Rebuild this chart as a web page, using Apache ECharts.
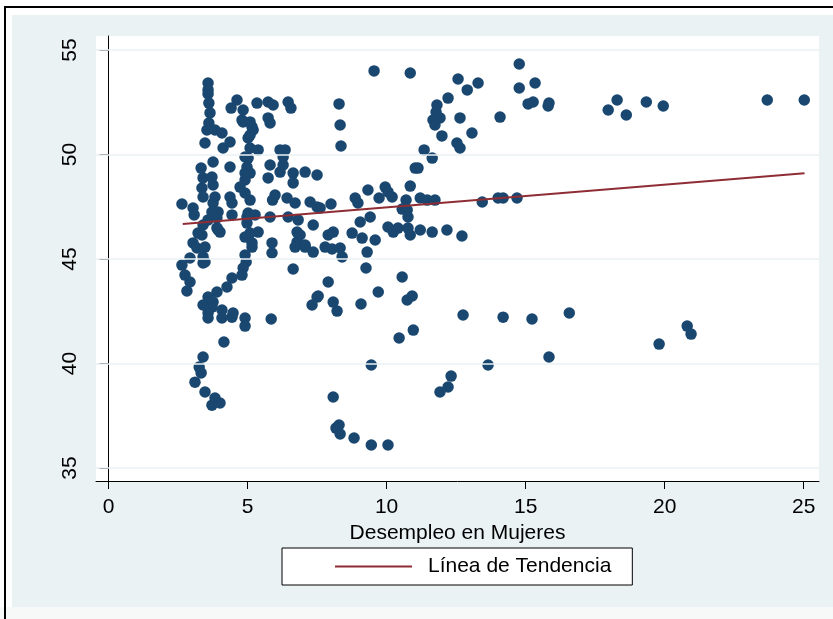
<!DOCTYPE html>
<html><head><meta charset="utf-8">
<script src="https://cdn.jsdelivr.net/npm/echarts@6/dist/echarts.min.js"></script>
<style>html,body{margin:0;padding:0;background:#fff}#c{width:833px;height:619px}</style>
</head><body><div id="c"></div>
<script>
const xTicks = [0, 5, 10, 15, 20, 25];
const yTicks = [35, 40, 45, 50, 55];
const xTitle = 'Desempleo en Mujeres';
const legendLabel = 'Línea de Tendencia';
const trendX = [2.67, 25.03];
const trendY = [46.67, 49.10];
const observaciones = [
[2.64,47.63],[2.64,44.71],[2.75,44.23],[2.82,43.47],[2.93,43.90],[2.93,45.05],[3.04,47.44],[3.08,47.11],[3.04,45.77],[3.18,45.53],
[3.22,46.24],[3.33,49.35],[3.36,48.40],[3.40,48.88],[3.40,47.97],[3.40,46.63],[3.40,45.10],[3.40,44.81],[3.36,46.15],[3.47,50.55],
[3.47,45.57],[3.47,44.86],[3.58,53.42],[3.58,53.09],[3.58,52.90],[3.61,52.46],[3.65,51.99],[3.61,51.51],[3.54,51.17],[3.83,51.17],
[4.08,51.03],[4.12,50.31],[4.37,50.60],[3.76,49.64],[4.37,49.40],[3.72,48.92],[3.76,48.54],[3.83,47.97],[4.37,47.97],[4.44,47.68],
[3.76,47.68],[3.72,47.25],[3.94,47.25],[3.90,46.96],[3.58,46.87],[4.44,47.11],[3.94,46.39],[4.01,46.29],[4.95,44.86],[4.84,44.57],
[4.80,44.23],[4.44,44.09],[4.26,43.66],[3.90,43.42],[3.58,43.18],[3.40,42.80],[3.76,42.94],[3.72,42.70],[3.58,42.42],[3.58,42.18],
[4.08,42.56],[4.08,42.18],[4.44,42.22],[4.48,42.42],[4.91,42.18],[4.91,41.79],[5.85,42.13],[6.64,44.52],[7.32,42.80],[7.50,43.18],
[4.15,41.03],[3.40,40.31],[3.26,39.83],[3.33,39.55],[3.11,39.11],[3.47,38.64],[3.83,38.35],[3.72,38.01],[4.01,38.11],[4.62,52.61],
[4.41,52.22],[4.84,52.13],[4.80,51.65],[5.09,51.56],[5.16,51.32],[5.20,51.17],[5.02,50.79],[5.09,50.31],[5.38,50.22],[5.02,49.83],
[4.98,49.40],[5.09,49.11],[4.91,48.78],[4.73,48.44],[4.91,48.16],[5.09,47.82],[5.02,47.20],[5.27,47.11],[4.98,46.72],[5.09,46.24],
[4.91,46.05],[5.38,46.29],[5.16,45.57],[4.91,45.19],[4.98,47.01],[5.81,47.01],[5.16,45.77],[5.88,45.77],[5.88,45.29],[5.34,52.46],
[5.74,52.51],[5.92,52.37],[6.46,52.51],[6.56,52.22],[5.74,51.75],[5.81,51.51],[4.84,51.56],[5.09,50.93],[6.17,50.22],[6.35,50.22],
[6.28,49.88],[6.28,49.50],[5.81,49.50],[5.74,48.88],[6.17,49.16],[6.64,49.11],[7.07,49.16],[7.50,49.02],[6.64,48.64],[4.91,49.88],
[4.91,49.11],[5.99,48.06],[6.42,47.92],[6.71,47.68],[7.25,47.73],[7.50,47.49],[6.46,47.01],[6.82,46.87],[7.36,46.63],[6.78,46.29],
[6.78,45.81],[6.71,45.57],[7.07,45.57],[7.36,45.33],[5.90,47.82],[9.55,54.00],[10.85,53.90],[8.29,52.42],[8.33,51.41],[8.36,50.41],
[12.57,53.61],[12.90,53.09],[13.29,53.42],[12.21,52.70],[11.81,52.37],[11.78,52.03],[11.67,51.65],[11.92,51.75],[11.74,51.41],[12.64,51.75],
[13.07,51.03],[11.99,50.89],[12.53,50.55],[12.64,50.31],[14.08,51.79],[11.35,50.22],[11.64,49.83],[11.03,49.35],[11.13,49.35],[10.85,48.49],
[9.95,48.44],[10.05,48.21],[10.20,47.97],[9.73,47.92],[9.33,48.30],[8.87,47.92],[8.97,47.68],[10.70,47.82],[11.21,47.92],[11.46,47.82],
[11.74,47.82],[13.44,47.73],[14.01,47.92],[10.56,47.39],[10.74,47.34],[10.77,47.01],[7.61,47.44],[8.00,47.63],[9.41,47.01],[9.05,46.77],
[6.89,46.15],[8.08,46.29],[7.90,46.15],[8.76,46.24],[9.12,46.00],[9.59,45.91],[10.05,46.53],[10.24,46.29],[10.41,46.48],[10.77,46.48],
[10.85,46.15],[11.21,46.39],[11.64,46.29],[12.17,46.39],[12.71,46.10],[7.07,45.67],[7.79,45.57],[8.04,45.48],[8.33,45.53],[8.40,45.10],
[9.30,45.33],[9.26,44.57],[10.56,44.14],[7.90,43.90],[7.54,43.23],[8.08,42.94],[8.22,42.51],[9.08,42.85],[9.70,43.42],[10.92,43.23],
[10.74,43.04],[12.75,42.32],[14.19,42.22],[10.96,41.60],[10.45,41.22],[9.45,39.93],[13.65,39.93],[12.32,39.40],[12.21,38.88],[11.92,38.64],
[8.08,38.40],[8.29,37.06],[8.18,36.91],[8.33,36.63],[8.83,36.44],[9.45,36.10],[10.05,36.10],[14.77,54.33],[14.77,53.18],[15.34,53.42],
[15.09,52.42],[15.27,52.51],[15.84,52.46],[15.81,52.32],[17.97,52.13],[18.29,52.61],[18.62,51.89],[19.34,52.51],[19.95,52.32],[23.69,52.61],
[25.02,52.61],[14.19,47.92],[14.69,47.92],[15.23,42.13],[16.57,42.42],[15.84,40.31],[19.80,40.93],[20.81,41.79],[20.95,41.41],[3.90,46.49]
];

const font = '"Liberation Sans", Arial, sans-serif';
const chart = echarts.init(document.getElementById('c'), null, {renderer: 'canvas'});
const option = {
  backgroundColor: '#eaf2f3',
  animation: false,
  graphic: [
    {type: 'rect', shape: {x: 0, y: 0, width: 833, height: 15}, style: {fill: '#fff'}, silent: true},
    {type: 'rect', shape: {x: 0, y: 0, width: 12, height: 619}, style: {fill: '#fff'}, silent: true},
    {type: 'rect', shape: {x: 0, y: 607, width: 833, height: 12}, style: {fill: '#f7f9f9'}, silent: true},
    {type: 'line', shape: {x1: 5, y1: 7, x2: 5, y2: 619}, style: {stroke: '#000', lineWidth: 2}, silent: true},
    {type: 'line', shape: {x1: 4, y1: 7, x2: 833, y2: 7}, style: {stroke: '#000', lineWidth: 2}, silent: true}
  ],
  grid: {left: 96, top: 36, width: 723, height: 445, show: true, backgroundColor: '#fff', borderWidth: 0},
  xAxis: {
    type: 'value', min: -0.45, max: 25.55,
    name: xTitle, nameLocation: 'middle', nameGap: 42,
    nameTextStyle: {fontFamily: font, fontSize: 21, color: '#000'},
    axisLine: {show: true, lineStyle: {color: '#000', width: 1}},
    axisTick: {show: true, length: 8, customValues: xTicks, lineStyle: {color: '#000', width: 1}},
    axisLabel: {customValues: xTicks, margin: 16, fontFamily: font, fontSize: 21, color: '#000'},
    splitLine: {show: false}
  },
  yAxis: {
    type: 'value', min: 34.38, max: 55.67,
    axisLine: {show: true, lineStyle: {color: '#000', width: 1}},
    axisTick: {show: true, length: 9, customValues: yTicks, lineStyle: {color: '#000', width: 1}},
    axisLabel: {customValues: yTicks, rotate: 90, margin: 15, fontFamily: font, fontSize: 21, color: '#000'},
    splitLine: {show: false}
  },
  legend: {
    data: [{name: legendLabel, icon: 'rect'}],
    left: 282, top: 548,
    padding: [8, 21, 8, 53],
    itemWidth: 77, itemHeight: 2,
    backgroundColor: '#fff', borderColor: '#000', borderWidth: 1, borderRadius: 0,
    textStyle: {fontFamily: font, fontSize: 21, color: '#000', padding: [0, 0, 0, 11]},
    selectedMode: false
  },
  series: [
    {
      name: 'grid', type: 'line', data: [], z: 1, silent: true,
      markLine: {
        silent: true, symbol: 'none', label: {show: false},
        lineStyle: {color: '#eaf2f3', width: 1.5, type: 'solid'},
        data: yTicks.map(v => ({yAxis: v}))
      }
    },
    {
      name: 'obs', type: 'scatter', data: observaciones, symbolSize: 11.5, z: 3, silent: true,
      itemStyle: {color: '#1a476f', opacity: 1}
    },
    {
      name: legendLabel, type: 'line', z: 4, symbol: 'none', silent: true,
      data: trendX.map((x, i) => [x, trendY[i]]),
      lineStyle: {color: '#8f2d34', width: 2}, itemStyle: {color: '#8f2d34'}
    }
  ]
};
chart.setOption(option);
</script></body></html>
